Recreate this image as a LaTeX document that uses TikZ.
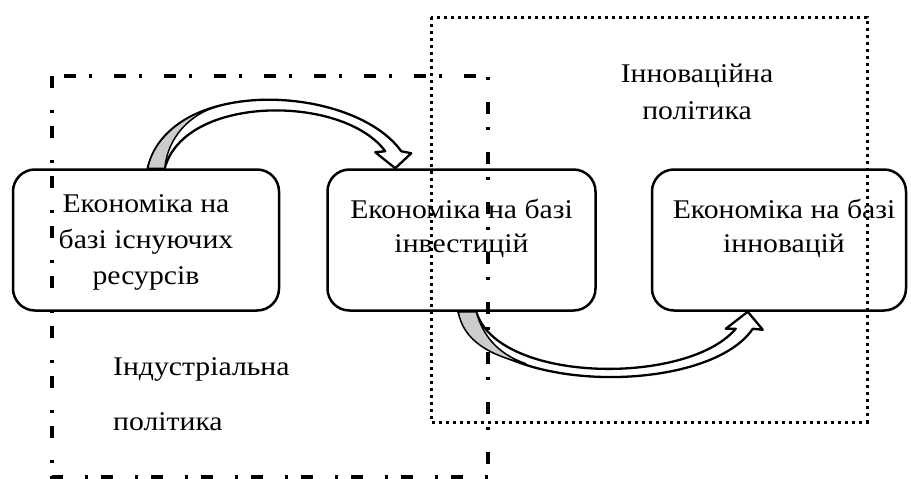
\documentclass[tikz,border=0pt]{standalone}
\usepackage{fontspec}
\setmainfont{Liberation Serif}[FakeStretch=1.1]
\usetikzlibrary{positioning}

\begin{document}
\begin{tikzpicture}[x=1pt, y=-1pt,
    box/.style={draw, line width=2.5pt, rounded corners=22pt, minimum height=141pt},
    txt/.style={font=\fontsize{27}{36}\selectfont, align=center, inner sep=0pt},
    blockarrow/.style={draw, line width=2.3pt, fill=white, line join=round},
    backside/.style={draw, line width=1.5pt, fill=black!20},
    dashdot/.style={line width=3.5pt, dash pattern=on 12pt off 22pt on 3pt off 13pt},
    dots/.style={line width=3pt, dash pattern=on 3pt off 4pt}]
    \useasboundingbox (0,0) rectangle (911,479);
    \node [box, minimum width=266pt] (b1) at (146,240) {};
    \node [box, minimum width=268pt, right=46pt of b1] (b2) {};
    \node [box, minimum width=254pt, right=54pt of b2] (b3) {};
    \node [txt] (t1) at ([yshift=-2pt]b1.center) {Економіка на\\базі існуючих\\ресурсів};
    \node [txt, font=\fontsize{27}{34}\selectfont] (t2) at ([yshift=12pt]b2.center) {Економіка на базі\\інвестицій};
    \node [txt, font=\fontsize{27}{34}\selectfont] (t3) at ([yshift=12pt, xshift=5pt]b3.center) {Економіка на базі\\інновацій};
    \node [txt, font=\fontsize{27}{55}\selectfont, align=left, anchor=north west] (ind) at (113,357) {Індустріальна\\політика};
    \node [txt, font=\fontsize{27}{37}\selectfont, anchor=north] (inn) at (697,64) {Інноваційна\\політика};
    \coordinate (a1l) at ([xshift=136pt]b1.north west);
    \coordinate (a1r) at ([xshift=153pt]b1.north west);
    \coordinate (a1tip) at ([xshift=69pt]b2.north west);
    \draw [blockarrow] (a1l) .. controls +(22,-93) and +(-48,-67) .. ([shift={(6,-17)}]a1tip)
        -- ++(10,2) -- (a1tip) -- ++(-20,-16) -- ++(10,-1)
        .. controls +(-42,-57) and +(20,-74) .. (a1r) -- cycle;
    \draw [backside] (a1l) .. controls +(6,-31) and +(-33,8) .. ++(70,-62)
        .. controls +(-28,8) and +(3,-31) .. (a1r) -- cycle;
    \coordinate (a2l) at ([xshift=132pt]b2.south west);
    \coordinate (a2r) at ([xshift=150pt]b2.south west);
    \coordinate (a2tip) at ([xshift=97pt]b3.south west);
    \draw [blockarrow] (a2l) .. controls +(30,84) and +(-45,67) .. ([shift={(5,17)}]a2tip)
        -- ++(10,1) -- (a2tip) -- ++(-22,17) -- ++(10,0)
        .. controls +(-48,57) and +(22,72) .. (a2r) -- cycle;
    \draw [backside] (a2l) .. controls +(5,29) and +(-36,-8) .. ++(68,52)
        .. controls +(-30,-10) and +(6,22) .. (a2r) -- cycle;
    \draw [dashdot] (52,76) rectangle (488,477);
    \draw [dots] (431,17) rectangle (867,422);
\end{tikzpicture}
\end{document}
